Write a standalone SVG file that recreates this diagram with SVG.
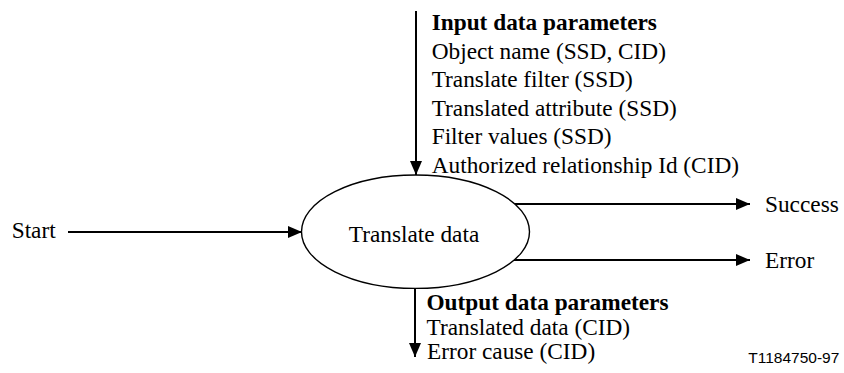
<svg xmlns="http://www.w3.org/2000/svg" width="844" height="373" viewBox="0 0 844 373">
<style>
.t{font-family:"Liberation Serif","Times New Roman",serif;font-size:23.3px;fill:#000}
.b{font-weight:bold}
.c{stroke:#000;stroke-width:2;fill:none}
.s{font-family:"Liberation Sans",Arial,sans-serif;font-size:15.5px;fill:#000}
</style>
<defs>
<marker id="ah" markerUnits="userSpaceOnUse" markerWidth="14" markerHeight="12" refX="14" refY="6" orient="auto">
<path d="M0,0 L14,6 L0,12 z" fill="#000"/>
</marker>
</defs>
<rect width="844" height="373" fill="#fff"/>
<g id="connectors">
<line class="c" x1="416" y1="11" x2="416" y2="175" marker-end="url(#ah)"/>
<line class="c" x1="68" y1="232" x2="302" y2="232" marker-end="url(#ah)"/>
<line class="c" x1="514" y1="204" x2="750" y2="204" marker-end="url(#ah)"/>
<line class="c" x1="514" y1="260" x2="750" y2="260" marker-end="url(#ah)"/>
<line class="c" x1="415" y1="288" x2="415" y2="357" marker-end="url(#ah)"/>
</g>
<g id="translate-data">
<ellipse cx="415.5" cy="231.7" rx="114" ry="56.7" fill="#fff" stroke="#000" stroke-width="1.4"/>
<text class="t" x="414" y="241.5" text-anchor="middle">Translate data</text>
</g>
<g id="start">
<text class="t" x="11.7" y="238.3">Start</text>
</g>
<g id="success">
<text class="t" x="765" y="212">Success</text>
</g>
<g id="error">
<text class="t" x="765" y="268">Error</text>
</g>
<g id="input-params">
<text class="t b" x="431.7" y="30">Input data parameters</text>
<text class="t" x="431.7" y="58.6">Object name (SSD, CID)</text>
<text class="t" x="431.7" y="87.2">Translate filter (SSD)</text>
<text class="t" x="431.7" y="115.8">Translated attribute (SSD)</text>
<text class="t" x="431.7" y="144.4">Filter values (SSD)</text>
<text class="t" x="431.7" y="173">Authorized relationship Id (CID)</text>
</g>
<g id="output-params">
<text class="t b" x="426.5" y="310">Output data parameters</text>
<text class="t" x="426.5" y="334.5">Translated data (CID)</text>
<text class="t" x="427" y="359">Error cause (CID)</text>
</g>
<text class="s" x="748.3" y="363.3">T1184750-97</text>
</svg>
